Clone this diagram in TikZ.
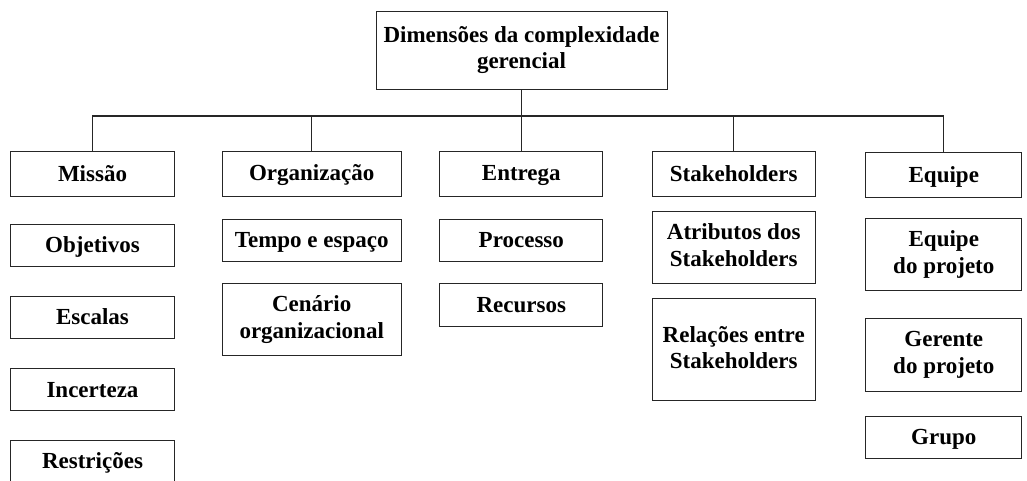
\documentclass[tikz,border=0pt]{standalone}
\usepackage{fontspec}
\setmainfont{Liberation Serif}
\usetikzlibrary{positioning}
\colorlet{linha}{black!85}
\newcommand{\suporte}{\rule[-4pt]{0pt}{23pt}}
\tikzset{
  caixa/.style={draw=linha, line width=1pt, inner sep=0pt, align=center,
    font=\fontsize{23}{26.5}\selectfont\bfseries,
    execute at begin node=\suporte, execute at end node=\suporte},
  liga/.style={draw=linha, line width=1.2pt}
}

\begin{document}
\begin{tikzpicture}[x=1pt,y=-1pt]

\useasboundingbox (0,0) rectangle (1027,480);
\clip (0,0) rectangle (1027,480);

% ---------- Top box ----------
\node[caixa, minimum width=291pt, minimum height=78pt] (topo) at (521.5,50)
  {Dimensões da complexidade\\gerencial};

% ---------- Dimensions ----------
\node[caixa, minimum width=164pt, minimum height=45pt] (missao) at (92.5,173.5) {Missão};
\node[caixa, minimum width=179pt, minimum height=45pt] (org) at (311.7,173.5) {Organização};
\node[caixa, minimum width=163pt, minimum height=45pt] (entrega) at (521.3,173.5) {Entrega};
\node[caixa, minimum width=163pt, minimum height=45pt] (stake) at (733.7,173.5) {Stakeholders};
\node[caixa, minimum width=156pt, minimum height=45pt] (equipe) at (943.8,175.3) {Equipe};

% ---------- Missao ----------
\node[caixa, minimum width=164pt, minimum height=42pt] (objetivos) at (92.5,245) {Objetivos};
\node[caixa, minimum width=164pt, minimum height=42pt] (escalas) at (92.5,317.2) {Escalas};
\node[caixa, minimum width=164pt, minimum height=42pt] (incerteza) at (92.5,389.5) {Incerteza};
\node[caixa, minimum width=164pt, minimum height=42pt] (restricoes) at (92.5,461) {Restrições};

% ---------- Organizacao ----------
\node[caixa, minimum width=179pt, minimum height=42pt] (tempo) at (311.7,240) {Tempo e espaço};
\node[caixa, minimum width=179pt, minimum height=72pt] (cenario) at (311.7,319.5)
  {Cenário\\organizacional};

% ---------- Entrega ----------
\node[caixa, minimum width=163pt, minimum height=42pt] (processo) at (521.3,240) {Processo};
\node[caixa, minimum width=163pt, minimum height=43pt] (recursos) at (521.3,304.7) {Recursos};

% ---------- Stakeholders ----------
\node[caixa, minimum width=163pt, minimum height=72pt] (atributos) at (733.7,247.2)
  {Atributos dos\\Stakeholders};
\node[caixa, minimum width=163pt, minimum height=102pt] (relacoes) at (733.7,349.5)
  {Relações entre\\Stakeholders};

% ---------- Equipe ----------
\node[caixa, minimum width=156pt, minimum height=72pt] (eqprojeto) at (943.8,254.5)
  {Equipe\\do projeto};
\node[caixa, minimum width=156pt, minimum height=73pt] (gerente) at (943.8,354.7)
  {Gerente\\do projeto};
\node[caixa, minimum width=156pt, minimum height=42pt] (grupo) at (943.8,437.2) {Grupo};

% ---------- Connectors ----------
\coordinate (barra) at (521.5,116);
\draw[liga] (topo.south) -- (barra);
\foreach \n in {missao,org,entrega,stake,equipe}{
  \draw[liga] (barra) -| (\n.north);
}

\end{tikzpicture}
\end{document}
